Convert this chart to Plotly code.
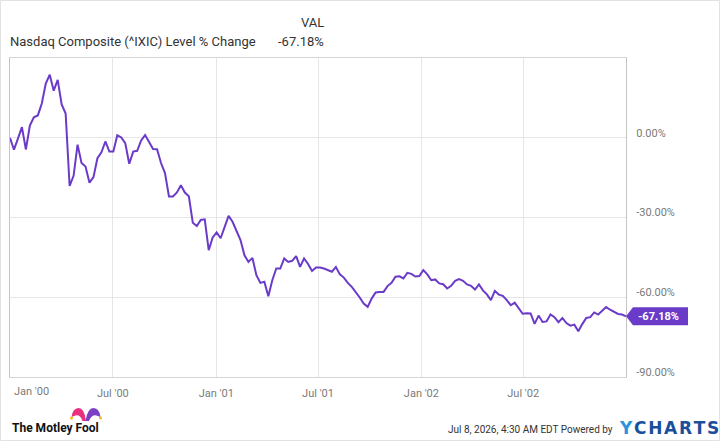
import plotly.graph_objects as go
import pandas as pd

# ---------------- data ----------------
series_name = "Nasdaq Composite (^IXIC) Level % Change"
start_date = "1999-12-31"
end_date = "2002-12-31"

pct_change = [
    0.0, -4.5, -0.3, 4.0, -4.4, 4.6, 7.7, 8.4, 12.9, 20.4, 23.7, 17.7, 21.8, 12.5, 9.1,
    -18.1, -14.3, -2.6, -9.5, -10.8, -16.9, -14.8, -7.7, -5.5, -1.4, -5.2, -5.2, 0.9, 0.1,
    -2.0, -9.8, -5.2, -4.9, -1.0, 1.0, -1.4, -4.2, -4.3, -9.5, -13.3, -22.1, -22.1, -20.6,
    -17.9, -20.6, -22.0,
    -32.0, -33.2, -30.9, -30.7, -42.3, -37.5, -35.6, -37.8, -33.5, -29.4, -31.6, -35.4,
    -38.5, -44.2, -46.7, -45.2, -51.7, -54.6, -54.2, -59.6, -53.6, -49.2, -49.2, -45.4, -46.7,
    -46.3, -44.5, -48.6, -45.4, -47.5, -50.1, -48.8, -48.8, -49.2, -49.8, -50.4, -48.6,
    -51.4, -52.6, -54.6, -56.1, -58.0, -60.1, -62.4, -63.6,
    -60.5, -58.2, -58.0, -58.0, -55.8, -54.6, -52.3, -52.1, -52.9, -50.8, -51.2, -52.2,
    -52.0, -49.8, -51.4, -53.6, -53.3, -54.8, -55.1, -56.7, -55.7, -53.8, -53.2, -53.8,
    -55.2, -55.7, -57.1, -55.2, -57.4, -58.9, -61.1, -57.6, -59.0, -59.5, -61.1, -63.0,
    -62.0, -64.3, -66.2, -66.0,
    -66.1, -70.0, -66.9, -69.3, -69.1, -66.5, -67.5, -69.4, -67.8, -69.7, -70.7, -70.3,
    -72.8, -70.1, -67.8, -67.5, -65.7, -66.5, -65.0, -63.7, -64.7, -65.6, -66.3, -66.5, -67.18,
]
dates = pd.date_range(start_date, end_date, periods=len(pct_change))

x_tick_dates = ["2000-07-01", "2001-01-01", "2001-07-01", "2002-01-01", "2002-07-01"]
x_tick_labels = ["Jul '00", "Jan '01", "Jul '01", "Jan '02", "Jul '02"]
first_tick_label = "Jan '00"
y_tick_vals = [0, -30, -60, -90]
y_tick_labels = ["0.00%", "-30.00%", "-60.00%", "-90.00%"]
y_range = [-90, 30]

header_col = "VAL"
timestamp_text = "Jul 8, 2026, 4:30 AM EDT Powered by"
brand_left = "The Motley Fool"

# ---------------- style / layout ----------------
W, H = 720, 441
L, R, T, B = 10, 626, 58, 377
PURPLE = "#6a3bc8"
FONT = "Roboto"
HAIR = "\u200a"


def px(X):
    return (X - L) / (R - L)


def py(Y):
    return (B - Y) / (B - T)


def path_from(points_cmds):
    out = []
    for cmd, pts in points_cmds:
        s = cmd
        for (X, Y) in pts:
            s += f" {px(X):.5f},{py(Y):.5f}"
        out.append(s)
    return " ".join(out) + " Z"


last_value = pct_change[-1]

fig = go.Figure()
fig.add_trace(go.Scatter(
    x=dates, y=pct_change, mode="lines",
    line=dict(color=PURPLE, width=2),
    name=series_name, showlegend=False, hoverinfo="skip",
))

ycharts_text = ("<b><span style='color:#2b93dc'>Y</span>" + HAIR
                + HAIR.join("CHARTS") + "</b>")

annotations = [
    dict(x=px(326), y=py(23), text=header_col, xanchor="right", yanchor="middle",
         font=dict(family=FONT, size=13, color="#333333")),
    dict(x=px(8), y=py(41), text=series_name, xanchor="left", yanchor="middle",
         font=dict(family=FONT, size=13, color="#333333")),
    dict(x=px(326), y=py(41), text=f"{last_value:.2f}%", xanchor="right", yanchor="middle",
         font=dict(family=FONT, size=13, color="#333333")),
    dict(x=px(11.5), y=py(391), text=first_tick_label, xanchor="left", yanchor="middle",
         font=dict(family=FONT, size=11, color="#7a7a7a")),
    dict(x=px(10), y=py(428), text=f"<b>{brand_left}</b>", xanchor="left", yanchor="middle",
         font=dict(family=FONT, size=12, color="#111111")),
    dict(x=px(615), y=py(429), text=timestamp_text, xanchor="right", yanchor="middle",
         font=dict(family=FONT, size=10, color="#333333")),
    dict(x=px(617), y=py(428), text=ycharts_text,
         xanchor="left", yanchor="middle",
         font=dict(family="DejaVu Sans", size=17, color="#1b4f9c")),
]
for a in annotations:
    a.update(xref="paper", yref="paper", showarrow=False)

# end-value callout text
annotations.append(dict(
    xref="paper", yref="y", x=1, y=last_value, xshift=32, xanchor="center", yanchor="middle",
    text=f"<b>{last_value:.2f}%</b>", showarrow=False,
    font=dict(family=FONT, size=11, color="white"),
))

shapes = [
    # end-value callout box with pointer
    dict(type="path", xref="paper", yref="y", xsizemode="pixel", ysizemode="pixel",
         xanchor=1, yanchor=last_value,
         path="M 0 0 L 7 9 L 62 9 L 62 -9 L 7 -9 Z",
         fillcolor=PURPLE, line=dict(width=0), layer="above"),
    # outer frame
    dict(type="rect", xref="paper", yref="paper",
         x0=px(0.5), x1=px(719.5), y0=py(0.5), y1=py(440.5),
         line=dict(color="#e2e2e2", width=1), layer="below"),
    # jester hat (pink lobe)
    dict(type="path", xref="paper", yref="paper",
         path=path_from([("M", [(86, 421)]), ("Q", [(84.5, 408), (78.5, 408)]),
                         ("Q", [(72.5, 408.5), (71.5, 417)]), ("L", [(75.5, 415.5)]),
                         ("Q", [(80.5, 414.5), (82.5, 421)])]),
         fillcolor="#e8307e", line=dict(width=0)),
    # jester hat (purple lobe)
    dict(type="path", xref="paper", yref="paper",
         path=path_from([("M", [(85.5, 421)]), ("Q", [(87.5, 408), (93.5, 408)]),
                         ("Q", [(99.5, 408.5), (100.5, 417)]), ("L", [(96.5, 415.5)]),
                         ("Q", [(91.5, 414.5), (89, 421)])]),
         fillcolor="#7b3fc6", line=dict(width=0)),
    dict(type="circle", xref="paper", yref="paper",
         x0=px(70), x1=px(73), y0=py(416.5), y1=py(419.5),
         fillcolor="#f2b81c", line=dict(width=0)),
    dict(type="circle", xref="paper", yref="paper",
         x0=px(99), x1=px(102), y0=py(416.5), y1=py(419.5),
         fillcolor="#f2b81c", line=dict(width=0)),
]

fig.update_layout(
    width=W, height=H, autosize=False,
    margin=dict(l=L, r=W - R, t=T, b=H - B, pad=0),
    paper_bgcolor="white", plot_bgcolor="white",
    showlegend=False,
    annotations=annotations, shapes=shapes,
    xaxis=dict(
        type="date", range=[start_date, end_date],
        tickmode="array", tickvals=x_tick_dates, ticktext=x_tick_labels,
        showgrid=True, gridcolor="#e6e6e6", gridwidth=1,
        showline=True, linecolor="#d4d4d4", linewidth=1, mirror=True,
        ticks="", ticklabelstandoff=6,
        tickfont=dict(family=FONT, size=11, color="#7a7a7a"),
        zeroline=False, fixedrange=True,
    ),
    yaxis=dict(
        side="right", range=y_range,
        tickmode="array", tickvals=y_tick_vals, ticktext=y_tick_labels,
        showgrid=True, gridcolor="#e6e6e6", gridwidth=1,
        showline=True, linecolor="#c4c4c4", linewidth=1, mirror=True,
        ticks="", ticklabelstandoff=7, ticklabelshift=-5,
        tickfont=dict(family=FONT, size=11, color="#7a7a7a"),
        zeroline=False, fixedrange=True,
    ),
)

fig.write_html("out.html", config={"displayModeBar": False})
